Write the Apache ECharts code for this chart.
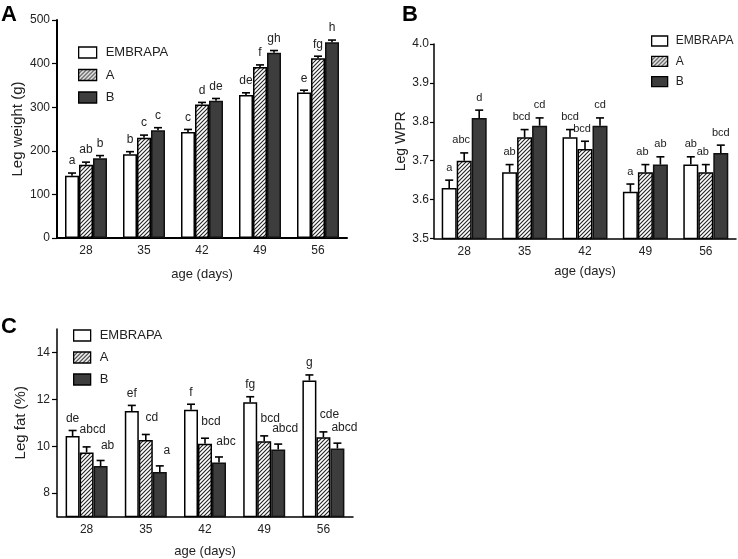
<!DOCTYPE html>
<html><head><meta charset="utf-8">
<script src="https://cdn.jsdelivr.net/npm/echarts@6/dist/echarts.min.js"></script>
<style>html,body{margin:0;padding:0;background:#fff}#c{width:738px;height:559px}</style>
</head><body><div id="c"></div>
<script>
// ---------- DATA ----------
const categories = ['28', '35', '42', '49', '56'];
const seriesNames = ['EMBRAPA', 'A', 'B'];

// Panel A: Leg weight (g)
const weightEMBRAPA = [143, 192, 243, 328, 334];
const weightA = [168, 230, 306, 392, 412];
const weightB = [183, 247, 315, 425, 449];
const weightErrEMBRAPA = [6, 6, 6, 5, 5];
const weightErrA = [6, 6, 5, 5, 5];
const weightErrB = [6, 6, 5, 5, 5];
const weightLetEMBRAPA = ['a', 'b', 'c', 'de', 'e'];
const weightLetA = ['ab', 'c', 'd', 'f', 'fg'];
const weightLetB = ['b', 'c', 'de', 'gh', 'h'];
const weightTicks = [0, 100, 200, 300, 400, 500];

// Panel B: Leg WPR
const wprEMBRAPA = [3.63, 3.67, 3.76, 3.62, 3.69];
const wprA = [3.70, 3.76, 3.73, 3.67, 3.67];
const wprB = [3.81, 3.79, 3.79, 3.69, 3.72];
const wprErrEMBRAPA = [0.02, 0.02, 0.02, 0.02, 0.02];
const wprErrA = [0.02, 0.02, 0.02, 0.02, 0.02];
const wprErrB = [0.02, 0.02, 0.02, 0.02, 0.02];
const wprLetEMBRAPA = ['a', 'ab', 'bcd', 'a', 'ab'];
const wprLetA = ['abc', 'bcd', 'bcd', 'ab', 'ab'];
const wprLetB = ['d', 'cd', 'cd', 'ab', 'bcd'];
const wprTicks = [3.5, 3.6, 3.7, 3.8, 3.9, 4.0];

// Panel C: Leg fat (%)
const fatEMBRAPA = [10.43, 11.50, 11.55, 11.88, 12.80];
const fatA = [9.73, 10.26, 10.10, 10.21, 10.38];
const fatB = [9.15, 8.90, 9.30, 9.86, 9.90];
const fatErrEMBRAPA = [0.24, 0.24, 0.24, 0.23, 0.24];
const fatErrA = [0.24, 0.24, 0.24, 0.23, 0.23];
const fatErrB = [0.24, 0.26, 0.24, 0.23, 0.23];
const fatLetEMBRAPA = ['de', 'ef', 'f', 'fg', 'g'];
const fatLetA = ['abcd', 'cd', 'bcd', 'bcd', 'cde'];
const fatLetB = ['ab', 'a', 'abc', 'abcd', 'abcd'];
const fatTicks = [8, 10, 12, 14];

// ---------- STYLE ----------
const FONT = '"Liberation Sans", Arial, Helvetica, sans-serif';
function hatchCanvas() {
  const c = document.createElement('canvas');
  c.width = 4; c.height = 4;
  const g = c.getContext('2d');
  g.fillStyle = '#fff'; g.fillRect(0, 0, 4, 4);
  g.strokeStyle = '#222'; g.lineWidth = 1.1;
  g.beginPath();
  g.moveTo(0, 4); g.lineTo(4, 0);
  g.moveTo(-1, 1); g.lineTo(1, -1);
  g.moveTo(3, 5); g.lineTo(5, 3);
  g.stroke();
  return c;
}
const hatch = { image: hatchCanvas(), repeat: 'repeat' };
const barStyles = [
  { color: '#ffffff', borderColor: '#000', borderWidth: 1.5 },
  { color: hatch, borderColor: '#000', borderWidth: 1.5 },
  { color: '#3d3d3d', borderColor: '#111', borderWidth: 1.5 }
];

const panels = [
  { vals: [weightEMBRAPA, weightA, weightB], errs: [weightErrEMBRAPA, weightErrA, weightErrB],
    lets: [weightLetEMBRAPA, weightLetA, weightLetB], bw: 14, gap: [6, 6, 6], dx: [0, 0, 0], fs: 12 },
  { vals: [wprEMBRAPA, wprA, wprB], errs: [wprErrEMBRAPA, wprErrA, wprErrB],
    lets: [wprLetEMBRAPA, wprLetA, wprLetB], bw: 15, gap: [7, 7, 7], dx: [0, -3, 0], fs: 11 },
  { vals: [fatEMBRAPA, fatA, fatB], errs: [fatErrEMBRAPA, fatErrA, fatErrB],
    lets: [fatLetEMBRAPA, fatLetA, fatLetB], bw: 14, gap: [6, 11, 9], dx: [0, 6, 7], fs: 12 }
];

const series = [];
panels.forEach((p, gi) => {
  p.vals.forEach((arr, s) => {
    series.push({
      type: 'bar', name: seriesNames[s], xAxisIndex: gi, yAxisIndex: gi,
      data: arr, barWidth: p.bw, barGap: '0%', itemStyle: barStyles[s],
      emphasis: { disabled: true }, silent: true, z: 2
    });
  });
  const items = [];
  p.vals.forEach((arr, s) => arr.forEach((v, i) => items.push({ cat: i, v: v, e: p.errs[s][i], s: s, t: p.lets[s][i] })));
  series.push({
    type: 'custom', xAxisIndex: gi, yAxisIndex: gi, z: 5, silent: true, clip: false,
    data: items.map(d => [d.cat, d.v + d.e]),
    renderItem: function (params, api) {
      const d = items[params.dataIndex];
      const base = api.coord([d.cat, d.v]);
      const top = api.coord([d.cat, d.v + d.e]);
      const x = base[0] + (d.s - 1) * p.bw;
      return {
        type: 'group',
        children: [
          { type: 'line', shape: { x1: x, y1: base[1], x2: x, y2: top[1] }, style: { stroke: '#000', lineWidth: 1.6 } },
          { type: 'line', shape: { x1: x - 4, y1: top[1], x2: x + 4, y2: top[1] }, style: { stroke: '#000', lineWidth: 1.6 } },
          { type: 'text', style: { text: d.t, x: x + p.dx[d.s], y: top[1] - p.gap[d.s], align: 'center', verticalAlign: 'bottom',
              fontSize: p.fs, fontFamily: FONT, fill: '#222' } }
        ]
      };
    }
  });
});

const grids = [
  { left: 57, top: 20, width: 290, height: 218 },
  { left: 434, top: 44, width: 302, height: 194.5 },
  { left: 57, top: 329, width: 296, height: 187.5 }
];

const xAxes = grids.map((g, i) => ({
  type: 'category', gridIndex: i, data: categories,
  axisLine: { lineStyle: { color: '#000', width: i === 0 ? 2 : 1.5 } },
  axisTick: { alignWithLabel: true, length: 4, lineStyle: { color: '#000', width: 1.2 } },
  axisLabel: { color: '#222', fontSize: 12, margin: 7, fontFamily: FONT },
  name: 'age (days)', nameLocation: 'middle', nameGap: [30, 26, 28][i],
  nameTextStyle: { fontSize: 13, color: '#222', fontFamily: FONT, verticalAlign: 'top' }
}));

const yAxes = [
  { type: 'value', gridIndex: 0, min: weightTicks[0], max: weightTicks[weightTicks.length - 1], interval: 100,
    name: 'Leg weight (g)', nameGap: 32, nameTextStyle: { fontSize: 15 },
    axisLabel: { margin: 7 }, axisTick: { length: 5 } },
  { type: 'value', gridIndex: 1, min: wprTicks[0], max: wprTicks[wprTicks.length - 1], interval: 0.1,
    name: 'Leg WPR', nameGap: 22, nameTextStyle: { fontSize: 14 },
    axisLabel: { formatter: v => v.toFixed(1), margin: 5 }, axisTick: { length: 4 } },
  { type: 'value', gridIndex: 2, min: 7, max: 15,
    name: 'Leg fat (%)', nameGap: 29, nameTextStyle: { fontSize: 15 },
    axisLabel: { customValues: fatTicks, margin: 7 }, axisTick: { customValues: fatTicks, length: 5 } }
].map((a, i) => Object.assign({}, a, {
  nameLocation: 'middle',
  nameTextStyle: Object.assign({ color: '#222', fontFamily: FONT }, a.nameTextStyle),
  splitLine: { show: false },
  axisLine: { show: true, lineStyle: { color: '#000', width: i === 0 ? 2 : 1.5 } },
  axisTick: Object.assign({ show: true, lineStyle: { color: '#000', width: 1.2 } }, a.axisTick || {}),
  axisLabel: Object.assign({ color: '#222', fontSize: 12, fontFamily: FONT }, a.axisLabel || {})
}));

const legendBase = {
  orient: 'vertical', data: seriesNames, selectedMode: false, icon: 'rect',
  itemStyle: { borderColor: '#000', borderWidth: 1.3 }
};
const legends = [
  Object.assign({}, legendBase, { left: 78, top: 46, itemWidth: 18, itemHeight: 11, itemGap: 9.5, padding: 0,
    textStyle: { fontSize: 13, color: '#222', fontFamily: FONT, padding: [0, 0, 0, 4] } }),
  Object.assign({}, legendBase, { left: 651, top: 35, itemWidth: 16, itemHeight: 10, itemGap: 8.3, padding: 0,
    textStyle: { fontSize: 12, color: '#222', fontFamily: FONT, padding: [0, 0, 0, 3] } }),
  Object.assign({}, legendBase, { left: 73, top: 329, itemWidth: 17, itemHeight: 11, itemGap: 9, padding: 0,
    textStyle: { fontSize: 13, color: '#222', fontFamily: FONT, padding: [0, 0, 0, 4] } })
];

const chart = echarts.init(document.getElementById('c'), null, { renderer: 'canvas' });
chart.setOption({
  animation: false,
  backgroundColor: '#fff',
  title: [
    { text: 'A', left: 1, top: 4, padding: 0, textStyle: { fontSize: 22, fontWeight: 'bold', color: '#000', fontFamily: FONT } },
    { text: 'B', left: 402, top: 4, padding: 0, textStyle: { fontSize: 22, fontWeight: 'bold', color: '#000', fontFamily: FONT } },
    { text: 'C', left: 1, top: 316, padding: 0, textStyle: { fontSize: 22, fontWeight: 'bold', color: '#000', fontFamily: FONT } }
  ],
  grid: grids,
  xAxis: xAxes,
  yAxis: yAxes,
  legend: legends,
  series: series
});
</script>
</body></html>
